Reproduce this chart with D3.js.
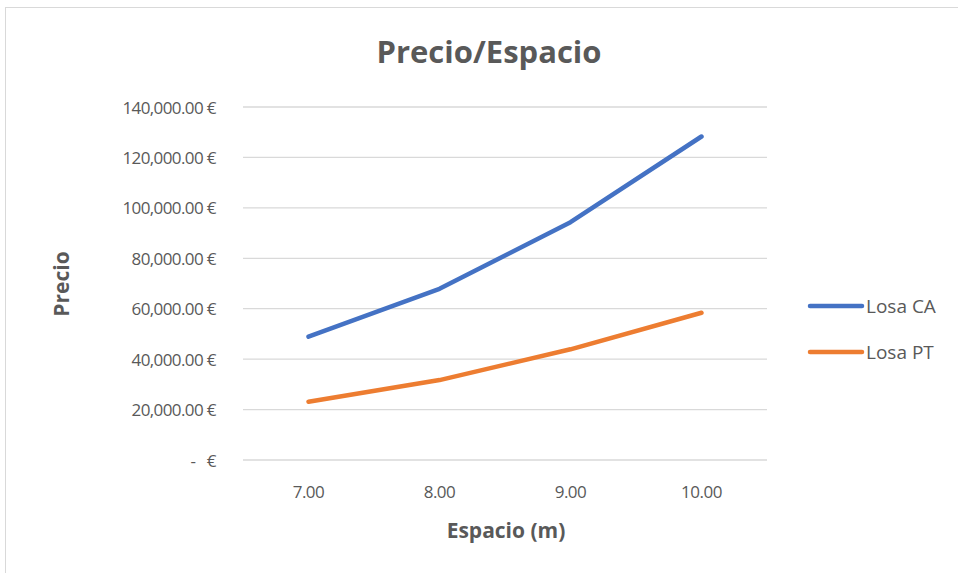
<!DOCTYPE html>
<html><head><meta charset="utf-8">
<script src="https://cdn.jsdelivr.net/npm/d3@7"></script>
<style>body{margin:0;background:#fff;} text{font-family:"Open Sans",Lato,sans-serif;}</style>
</head><body>
<svg id="c" width="958" height="573"></svg>
<script>
const categories = ["7.00","8.00","9.00","10.00"];
const seriesNames = ["Losa CA","Losa PT"];
const losaCA = [48900, 67900, 94300, 128300];
const losaPT = [23100, 31700, 43900, 58400];
const yTicks = [0,20000,40000,60000,80000,100000,120000,140000];
const colors = ["#4472C4","#ED7D31"];

const svg = d3.select("#c");
svg.append("rect").attr("x",5.5).attr("y",7.5).attr("width",1000).attr("height",600)
  .attr("fill","#fff").attr("stroke","#d9d9d9");

const x = d3.scaleBand().domain(categories).range([243,767]);
const y = d3.scaleLinear().domain([0,140000]).range([460,107]);

svg.append("g").selectAll("line").data(yTicks).join("line")
  .attr("x1",243).attr("x2",767).attr("y1",d=>y(d)).attr("y2",d=>y(d))
  .attr("stroke","#d9d9d9").attr("stroke-width",1.3);

const fmt = d => d===0 ? "-   €" : d3.format(",.2f")(d)+" €";
svg.append("g").selectAll("text").data(yTicks).join("text")
  .attr("x",216).attr("y",d=>y(d)+6.5).attr("text-anchor","end")
  .attr("fill","#595959").style("font-size","17px").style("letter-spacing","-0.6px").style("white-space","pre")
  .text(fmt);

svg.append("g").selectAll("text").data(categories).join("text")
  .attr("x",d=>x(d)+x.bandwidth()/2).attr("y",498).attr("text-anchor","middle")
  .attr("fill","#595959").style("font-size","17px").style("letter-spacing","-0.5px").text(d=>d);

const line = d3.line().x((d,i)=>x(categories[i])+x.bandwidth()/2).y(d=>y(d));
[losaCA,losaPT].forEach((s,i)=>{
  svg.append("path").datum(s).attr("d",line).attr("fill","none")
    .attr("stroke",colors[i]).attr("stroke-width",4.5)
    .attr("stroke-linecap","round").attr("stroke-linejoin","round");
});

svg.append("text").attr("x",489).attr("y",63).attr("text-anchor","middle")
  .attr("fill","#595959").style("font-size","31px").style("font-weight","bold").text("Precio/Espacio");
svg.append("text").attr("x",506).attr("y",538).attr("text-anchor","middle")
  .attr("fill","#595959").style("font-size","21px").style("font-weight","bold").text("Espacio (m)");
svg.append("text").attr("transform","translate(69,284) rotate(-90)").attr("text-anchor","middle")
  .attr("fill","#595959").style("font-size","21px").style("font-weight","bold").text("Precio");

const lg = svg.append("g").selectAll("g").data(seriesNames).join("g")
  .attr("transform",(d,i)=>`translate(0,${306+i*46})`);
lg.append("line").attr("x1",810).attr("x2",862).attr("y1",0).attr("y2",0)
  .attr("stroke",(d,i)=>colors[i]).attr("stroke-width",4.5).attr("stroke-linecap","round");
lg.append("text").attr("x",866).attr("y",7).attr("fill","#595959").style("font-size","19px").text(d=>d);
</script>
</body></html>
